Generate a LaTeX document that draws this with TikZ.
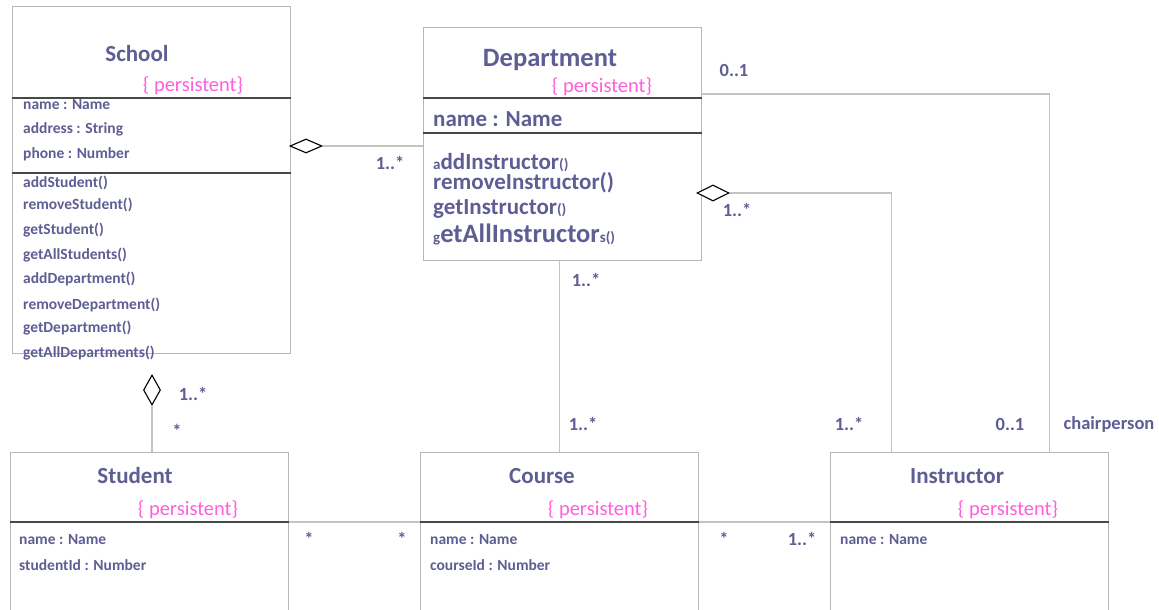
\documentclass[tikz,border=0pt]{standalone}
\usepackage{fontspec}
\setmainfont{Carlito}
\usetikzlibrary{shapes.geometric}
\definecolor{ink}{RGB}{94,94,148}
\definecolor{tag}{RGB}{255,95,220}
\definecolor{frame}{RGB}{184,184,178}
\definecolor{rulecol}{RGB}{72,72,72}
\definecolor{wire}{RGB}{196,196,190}
\newcommand\opsmall{\fontsize{15}{18}\selectfont}
\newcommand\opmid{\fontsize{23}{26}\selectfont}
\newcommand\opbig{\fontsize{26.5}{30}\selectfont}
\begin{document}
\begin{tikzpicture}[x=1pt,y=-1pt,
  classbox/.style={draw=frame, line width=1.3pt, fill=white, rectangle, inner sep=0pt, anchor=north west},
  rulerline/.style={draw=rulecol, line width=1.8pt},
  cname/.style={font=\fontsize{23}{26}\selectfont\bfseries, text=ink, anchor=mid, inner sep=0pt},
  ptag/.style={font=\fontsize{20.5}{23}\selectfont, text=tag, anchor=mid, inner sep=0pt},
  attr/.style={font=\fontsize{15.5}{18}\selectfont\bfseries, text=ink, anchor=mid west, inner sep=0pt},
  deptop/.style={font=\bfseries, text=ink, anchor=base west, inner sep=0pt},
  mult/.style={font=\fontsize{18.5}{21}\selectfont\bfseries, text=ink, inner sep=0pt},
  assoc/.style={draw=wire, line width=1.6pt},
  agg/.style={diamond, draw=black, fill=white, line width=1.1pt, inner sep=0pt},
]
\fill[white] (0,0) rectangle (1159,610);
\clip (0,0) rectangle (1159,610);

% ---------- classes ----------
\node[classbox, minimum width=278pt, minimum height=347pt] (school) at (12,6) {};
\node[classbox, minimum width=278pt, minimum height=233pt] (dept) at (423,27) {};
\node[classbox, minimum width=278pt, minimum height=170pt] (student) at (10,452) {};
\node[classbox, minimum width=278pt, minimum height=170pt] (course) at (420,452) {};
\node[classbox, minimum width=278pt, minimum height=170pt] (instr) at (830,452) {};

% compartment rules
\draw[rulerline] ([yshift=-92pt]school.north west) -- ([yshift=-92pt]school.north east);
\draw[rulerline] ([yshift=-167pt]school.north west) -- ([yshift=-167pt]school.north east);
\draw[rulerline] ([yshift=-71pt]dept.north west) -- ([yshift=-71pt]dept.north east);
\draw[rulerline] ([yshift=-106pt]dept.north west) -- ([yshift=-106pt]dept.north east);
\draw[rulerline] ([yshift=-70pt]student.north west) -- ([yshift=-70pt]student.north east);
\draw[rulerline] ([yshift=-70pt]course.north west) -- ([yshift=-70pt]course.north east);
\draw[rulerline] ([yshift=-70pt]instr.north west) -- ([yshift=-70pt]instr.north east);

% School
\node[cname] (schoolName) at (137,59) {School};
\node[ptag] (schoolTag) at (193,89) {\{ persistent\}};
\foreach \y/\t [count=\i] in {107/name : Name, 131/address : String, 156/phone : Number,
  185/addStudent(), 207/removeStudent(), 232/getStudent(), 257/getAllStudents(),
  281/addDepartment(), 307/removeDepartment(), 330/getDepartment(), 355/getAllDepartments()}
  \node[attr] (schoolLine\i) at (23,\y) {\t};

% Department
\node[cname, font=\fontsize{26.5}{30}\selectfont\bfseries] (deptName) at (550,64) {Department};
\node[ptag] (deptTag) at (602,90) {\{ persistent\}};
\node[attr, font=\opmid\bfseries] (deptAttr) at (433,124) {name : Name};
\node[deptop] (deptOp1) at (433,169) {{\opsmall a}{\opmid ddInstructor}{\opsmall ()}};
\node[deptop] (deptOp2) at (433,189) {\opmid removeInstructor()};
\node[deptop] (deptOp3) at (433,214) {{\opmid getInstructor}{\opsmall ()}};
\node[deptop] (deptOp4) at (433,242) {{\opsmall g}{\opbig etAllInstructor}{\opsmall s()}};

% Student
\node[cname] (studentName) at (135,481) {Student};
\node[ptag] (studentTag) at (188,513) {\{ persistent\}};
\node[attr] (studentAttr1) at (19,542) {name : Name};
\node[attr] (studentAttr2) at (19,568) {studentId : Number};

% Course
\node[cname] (courseName) at (542,481) {Course};
\node[ptag] (courseTag) at (598,513) {\{ persistent\}};
\node[attr] (courseAttr1) at (430,542) {name : Name};
\node[attr] (courseAttr2) at (430,568) {courseId : Number};

% Instructor
\node[cname] (instrName) at (957,481) {Instructor};
\node[ptag] (instrTag) at (1008,513) {\{ persistent\}};
\node[attr] (instrAttr1) at (840,542) {name : Name};

% ---------- aggregation diamonds ----------
\node[agg, minimum width=32pt, minimum height=14pt] (aggSchoolDept) at (306,146) {};
\node[agg, minimum width=17pt, minimum height=30pt] (aggSchoolStud) at (152,390) {};
\node[agg, minimum width=32pt, minimum height=16pt] (aggDeptInstr) at (713,193) {};

% ---------- associations ----------
\draw[assoc] (aggSchoolDept.east) -- (aggSchoolDept.east -| dept.west);
\draw[assoc] (aggSchoolStud.south) -- (aggSchoolStud.south |- student.north);
\draw[assoc] ([yshift=-70pt]student.north east) -- ([yshift=-70pt]course.north west);
\draw[assoc] ([yshift=-70pt]course.north east) -- ([yshift=-70pt]instr.north west);
\draw[assoc] (course.north |- dept.south) -- (course.north);
\draw[assoc] (aggDeptInstr.east) -| ([xshift=-78pt]instr.north);
\draw[assoc] ([yshift=-67pt]dept.north east) -| ([xshift=80pt]instr.north);

% ---------- multiplicities ----------
\node[mult] (mSD) at (390,163) {1..*};
\node[mult] (mSS1) at (193,394) {1..*};
\node[mult] (mSS2) at (177,431) {*};
\node[mult] (mDC1) at (586,280) {1..*};
\node[mult] (mDC2) at (583,424) {1..*};
\node[mult] (mDI1) at (737,210) {1..*};
\node[mult] (mDI2) at (849,424) {1..*};
\node[mult] (mCh1) at (734,70) {0..1};
\node[mult] (mCh2) at (1010,424) {0..1};
\node[mult] (mChRole) at (1109,424) {chairperson};
\node[mult] (mSC1) at (309,539) {*};
\node[mult] (mSC2) at (402,539) {*};
\node[mult] (mCI1) at (724,539) {*};
\node[mult] (mCI2) at (802,539) {1..*};
\end{tikzpicture}
\end{document}
